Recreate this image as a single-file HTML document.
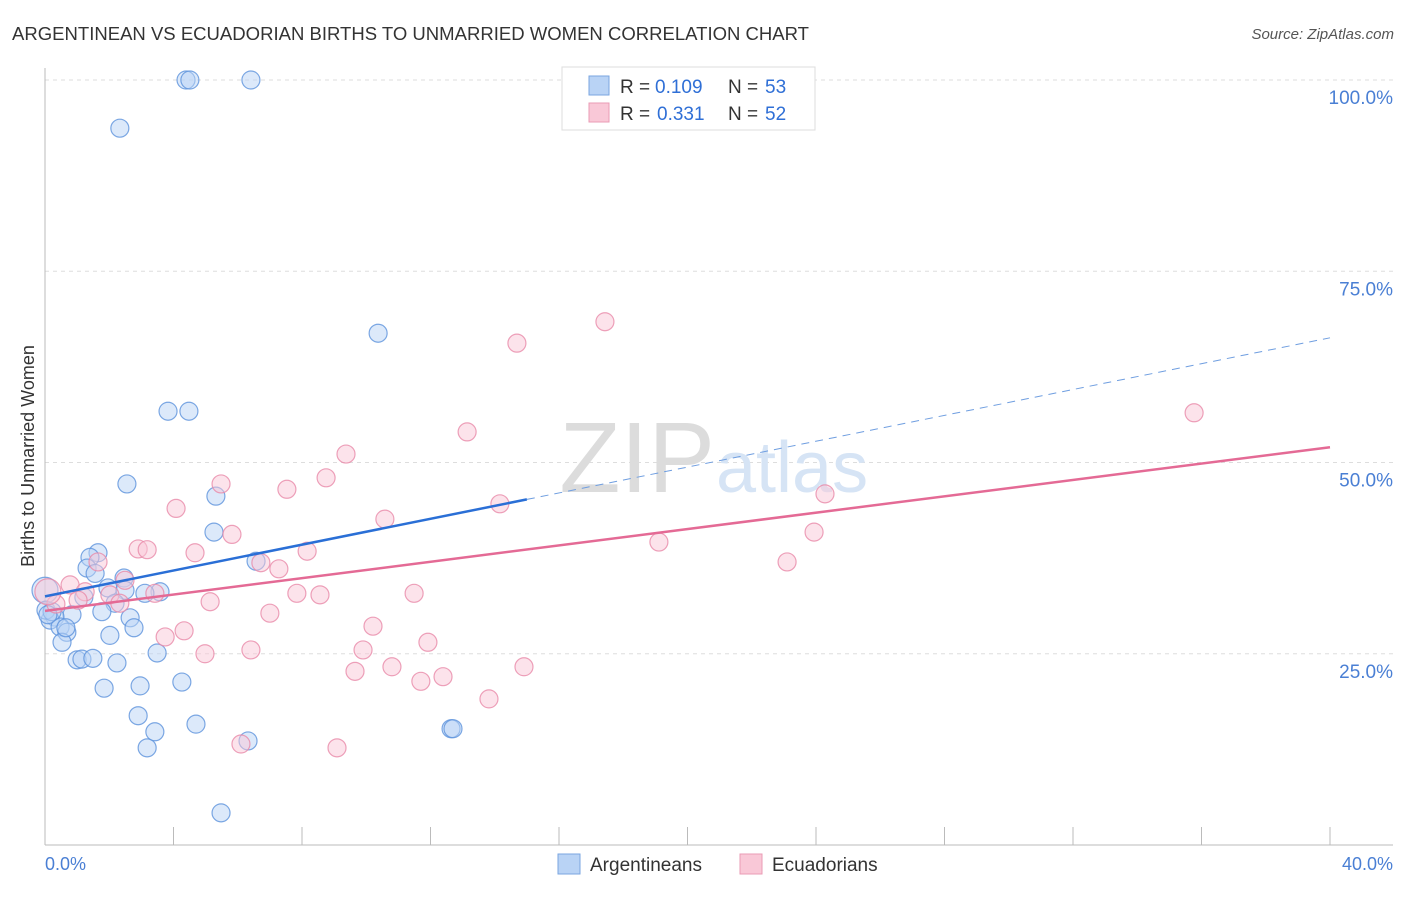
<!DOCTYPE html>
<html><head><meta charset="utf-8"><style>
body{margin:0;background:#fff;font-family:"Liberation Sans",sans-serif;}
svg text{font-family:"Liberation Sans",sans-serif;}
</style></head><body>
<svg id="chart" width="1406" height="892" xmlns="http://www.w3.org/2000/svg">
<text x="12" y="40" font-size="18" fill="#333" textLength="797" lengthAdjust="spacingAndGlyphs">ARGENTINEAN VS ECUADORIAN BIRTHS TO UNMARRIED WOMEN CORRELATION CHART</text>
<text x="1394" y="39" font-size="15" fill="#555" text-anchor="end" font-style="italic">Source: ZipAtlas.com</text>
<g id="grid"></g>
<text x="715" y="492" font-size="100" fill="#dcdcdc" text-anchor="end" font-family="Liberation Serif">ZIP</text>
<text x="716" y="492" font-size="72" fill="#d6e4f5">atlas</text>
<g id="pts"></g>
<g id="lines"></g>
<text x="34" y="456" font-size="18" fill="#333" text-anchor="middle" transform="rotate(-90 34 456)">Births to Unmarried Women</text>
<text x="45" y="870" font-size="18" fill="#4a7fd4">0.0%</text>
<text x="1393" y="870" font-size="18" fill="#4a7fd4" text-anchor="end">40.0%</text>
<g>
<rect x="562" y="67" width="253" height="63" fill="#fff" stroke="#ddd"/>
<rect x="589" y="76" width="20" height="19" fill="#b9d3f5" stroke="#7aa6e0"/>
<rect x="589" y="103" width="20" height="19" fill="#f9c8d7" stroke="#ea9bb4"/>
<text x="620" y="93" font-size="19" fill="#333">R =</text><text x="655" y="93" font-size="19" fill="#2f6fd6">0.109</text>
<text x="728" y="93" font-size="19" fill="#333">N =</text><text x="765" y="93" font-size="19" fill="#2f6fd6">53</text>
<text x="620" y="120" font-size="19" fill="#333">R =</text><text x="657" y="120" font-size="19" fill="#2f6fd6">0.331</text>
<text x="728" y="120" font-size="19" fill="#333">N =</text><text x="765" y="120" font-size="19" fill="#2f6fd6">52</text>
</g>
<g>
<rect x="558" y="854" width="22" height="20" fill="#b9d3f5" stroke="#7aa6e0"/>
<text x="590" y="871" font-size="19" fill="#333">Argentineans</text>
<rect x="740" y="854" width="22" height="20" fill="#f9c8d7" stroke="#ea9bb4"/>
<text x="772" y="871" font-size="19" fill="#333">Ecuadorians</text>
</g>
</svg>
<script>
const blueX=[4.39,4.51,6.41,2.33,10.37,3.83,4.48,2.55,5.32,5.26,6.57,1.65,1.40,1.31,1.56,2.46,1.96,2.49,3.58,3.11,1.21,2.18,1.77,0.84,0.31,0.16,0.47,0.68,0.53,2.02,2.65,2.77,3.49,1.00,1.15,1.49,2.24,1.84,2.96,4.26,2.90,3.42,3.18,4.70,6.32,12.64,12.70,5.48,0,0.03,0.22,0.65,0.09];
const blueY=[100,100,100,93.7,66.9,56.7,56.7,47.2,45.6,40.9,37.1,38.2,37.6,36.2,35.5,34.9,33.6,33.3,33.1,32.9,32.4,31.6,30.5,30.1,29.8,29.4,28.5,27.8,26.5,27.4,29.7,28.4,25.1,24.2,24.3,24.4,23.8,20.5,20.8,21.3,16.9,14.8,12.7,15.8,13.6,15.2,15.2,4.2,33.3,30.7,30.5,28.4,30.1];
const pinkX=[17.43,14.69,35.77,13.14,9.37,8.75,5.48,7.53,24.28,14.16,4.08,10.58,23.94,5.82,19.11,2.90,3.18,4.67,8.16,1.65,23.10,6.72,7.28,2.49,0.78,7.84,8.56,11.49,3.42,1.25,2.02,1.03,5.14,2.33,0.34,7.00,10.21,4.33,3.74,11.92,9.90,6.41,4.98,10.80,14.91,9.65,12.39,11.70,13.82,6.10,9.09,0.09];
const pinkY=[68.4,65.6,56.5,54.0,51.1,48.0,47.2,46.5,45.9,44.6,44.0,42.6,40.9,40.6,39.6,38.7,38.6,38.2,38.4,37.0,37.0,36.9,36.1,34.6,34.0,32.9,32.7,32.9,32.9,33.1,32.7,32.0,31.8,31.6,31.5,30.3,28.6,28.0,27.2,26.5,25.5,25.5,25.0,23.3,23.3,22.7,22.0,21.4,19.1,13.2,12.7,33.1];
const blueTrend=[32.5,66.3]; const blueSolidEnd=15.0;
const pinkTrend=[30.6,52.0];
const yTicks=[25,50,75,100];
const yTickLabels=["25.0%","50.0%","75.0%","100.0%"];
const xTicks=[0,4,8,12,16,20,24,28,32,36,40];
const NS="http://www.w3.org/2000/svg";
const sx=v=>45+v/40*1285, sy=v=>845-v/100*765;
function mk(t,a,p){const e=document.createElementNS(NS,t);for(const k in a)e.setAttribute(k,a[k]);p.appendChild(e);return e;}
const g=document.getElementById('grid');
yTicks.forEach((t,i)=>{
 const l=mk('line',{x1:45,x2:1393,y1:sy(t),y2:sy(t),stroke:'#ddd','stroke-dasharray':'4,4'},g);
 
 
 const tx=mk('text',{x:1393,y:sy(t)+24,'font-size':19,fill:'#4a7fd4','text-anchor':'end'},g);
 tx.textContent=yTickLabels[i];
 
 
});
const ax=mk('line',{x1:45,x2:1393,y1:845,y2:845,stroke:'#bbb'},g);


const ay=mk('line',{x1:45,x2:45,y1:68,y2:845,stroke:'#bbb'},g);


xTicks.forEach(t=>{const l=mk('line',{x1:sx(t),x2:sx(t),y1:827,y2:845,stroke:'#bbb'},g);
 
 });
const p=document.getElementById('pts');
function pts(X,Y,fill,stroke,name){X.forEach((x,i)=>{const r=(x===0||(x<0.1&&Y[i]>33))?13:9;
 const c=mk('circle',{cx:sx(x),cy:sy(Y[i]),r:r,fill:fill,'fill-opacity':0.5,stroke:stroke,'stroke-width':1.2,'stroke-opacity':0.8},p);
 
 });}
pts(blueX,blueY,'#b9d3f5','#5d92dc','argentinean-point');
pts(pinkX,pinkY,'#f9c8d7','#e98aa9','ecuadorian-point');
const L=document.getElementById('lines');
const ty=(tr,x)=>tr[0]+(tr[1]-tr[0])*x/40;
const b1=mk('line',{x1:sx(0),y1:sy(ty(blueTrend,0)),x2:sx(blueSolidEnd),y2:sy(ty(blueTrend,blueSolidEnd)),stroke:'#2a6fd6','stroke-width':2.5},L);


const b2=mk('line',{x1:sx(blueSolidEnd),y1:sy(ty(blueTrend,blueSolidEnd)),x2:sx(40),y2:sy(ty(blueTrend,40)),stroke:'#6f9ee0','stroke-width':1,'stroke-dasharray':'8,6'},L);


const p1=mk('line',{x1:sx(0),y1:sy(ty(pinkTrend,0)),x2:sx(40),y2:sy(ty(pinkTrend,40)),stroke:'#e46a95','stroke-width':2.5},L);


</script>
</body></html>
